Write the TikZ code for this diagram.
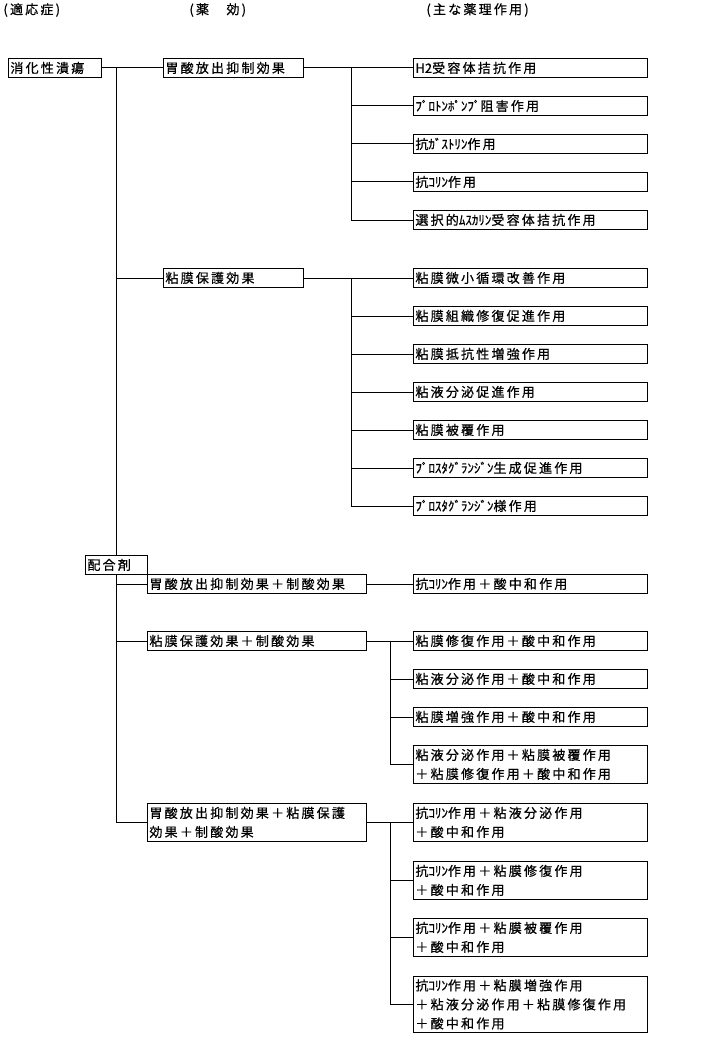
\documentclass[tikz,border=0pt]{standalone}
\usepackage{fontspec}
\newfontfamily\jpfont[LetterSpace=17, FakeBold=0.7]{Noto Sans CJK JP}
\newcommand{\jptext}{\jpfont\fontsize{13pt}{19pt}\selectfont}
\newcommand{\hk}[1]{{\addfontfeature{LetterSpace=0}#1}}
\begin{document}
\begin{tikzpicture}[x=1pt, y=-1pt, line width=0.9pt,
  hdr/.style={anchor=west, inner sep=0pt, font=\jptext},
  box/.style={draw, anchor=north west, inner xsep=2pt, inner ysep=0pt, align=left, font=\jptext, minimum height=19pt},
  sickbox/.style={box},
  effbox/.style={box, text width=136pt},
  mixbox/.style={box, text width=215pt},
  actbox/.style={box, text width=230pt}]
	\useasboundingbox (0,0) rectangle (710,1051);
	% 1. 見出し
	\node[hdr] (hdrsick) at (3,10) {(適応症)};
	\node[hdr] (hdreff) at (189,10) {(薬　効)};
	\node[hdr] (hdract) at (426,10) {(主な薬理作用)};
	
	% 2. 適応症 (配合剤は幹線の上に載せる)
	\node[sickbox, text width=89pt] (ulcer) at (8,58) {消化性潰瘍};
	\node[sickbox, text width=58pt] (mix) at (85,555) {配合剤};
	
	% 3. 薬効
	\node[effbox] (acid) at (163,58) {胃酸放出抑制効果};
	\node[effbox] (muc) at (163,268) {粘膜保護効果};
	\node[mixbox] (mixa) at (147,574) {胃酸放出抑制効果＋制酸効果};
	\node[mixbox] (mixb) at (147,631) {粘膜保護効果＋制酸効果};
	\node[mixbox, minimum height=38pt] (mixc) at (147,803) {胃酸放出抑制効果＋粘膜保護\\効果＋制酸効果};
	
	% 4. 主な薬理作用 (半角カナは字間を詰める)
	\foreach \n/\y/\t in {1/58/\hk{H2}受容体拮抗作用, 2/96/\hk{ﾌﾟﾛﾄﾝﾎﾟﾝﾌﾟ}阻害作用, 3/134/抗\hk{ｶﾞｽﾄﾘﾝ}作用,
	    4/172/抗\hk{ｺﾘﾝ}作用, 5/210/選択的\hk{ﾑｽｶﾘﾝ}受容体拮抗作用}
	  \node[actbox] (acid\n) at (413,\y) {\t};
	\foreach \n/\y/\t in {1/268/粘膜微小循環改善作用, 2/306/粘膜組織修復促進作用, 3/344/粘膜抵抗性増強作用,
	    4/382/粘液分泌促進作用, 5/420/粘膜被覆作用, 6/458/\hk{ﾌﾟﾛｽﾀｸﾞﾗﾝｼﾞﾝ}生成促進作用, 7/496/\hk{ﾌﾟﾛｽﾀｸﾞﾗﾝｼﾞﾝ}様作用}
	  \node[actbox] (muc\n) at (413,\y) {\t};
	\node[actbox] (mixa1) at (413,574) {抗\hk{ｺﾘﾝ}作用＋酸中和作用};
	\foreach \n/\y/\h/\t in {1/631/19/{粘膜修復作用＋酸中和作用}, 2/669/19/{粘液分泌作用＋酸中和作用},
	    3/707/19/{粘膜増強作用＋酸中和作用}, 4/745/38/{粘液分泌作用＋粘膜被覆作用\\＋粘膜修復作用＋酸中和作用}}
	  \node[actbox, minimum height=\h pt] (mixb\n) at (413,\y) {\t};
	\foreach \n/\y/\h/\t in {1/803/38/{抗\hk{ｺﾘﾝ}作用＋粘液分泌作用\\＋酸中和作用}, 2/861/38/{抗\hk{ｺﾘﾝ}作用＋粘膜修復作用\\＋酸中和作用},
	    3/918/38/{抗\hk{ｺﾘﾝ}作用＋粘膜被覆作用\\＋酸中和作用}, 4/976/56/{抗\hk{ｺﾘﾝ}作用＋粘膜増強作用\\＋粘液分泌作用＋粘膜修復作用\\＋酸中和作用}}
	  \node[actbox, minimum height=\h pt] (mixc\n) at (413,\y) {\t};
	
	% 5. 結線 (幹線 x=116, 分岐 x=351, x=390)
	\draw (ulcer.east) -- (acid.west);
	\draw (ulcer.east -| mix.north) -- (mix.north);
	\draw (mix.south) |- (mixc.west);
	\foreach \b in {muc, mixa, mixb}
	  \draw (\b.west -| mix.north) -- (\b.west);
	
	\coordinate (acidj) at (351,0);
	\coordinate (mucj) at (351,0);
	\coordinate (mixj) at (390,0);
	\draw (acid.east) -- (acid1.west);
	\draw (acid1.west -| acidj) |- (acid5.west);
	\foreach \n in {2,3,4}
	  \draw (acid\n.west -| acidj) -- (acid\n.west);
	\draw (muc.east) -- (muc1.west);
	\draw (muc1.west -| mucj) |- (muc7.west);
	\foreach \n in {2,...,6}
	  \draw (muc\n.west -| mucj) -- (muc\n.west);
	\draw (mixa.east) -- (mixa1.west);
	\draw (mixb.east) -- (mixb1.west);
	\draw (mixb1.west -| mixj) |- (mixb4.west);
	\foreach \n in {2,3}
	  \draw (mixb\n.west -| mixj) -- (mixb\n.west);
	\draw (mixc.east) -- (mixc1.west);
	\draw (mixc1.west -| mixj) |- (mixc4.west);
	\foreach \n in {2,3}
	  \draw (mixc\n.west -| mixj) -- (mixc\n.west);
\end{tikzpicture}
\end{document}
